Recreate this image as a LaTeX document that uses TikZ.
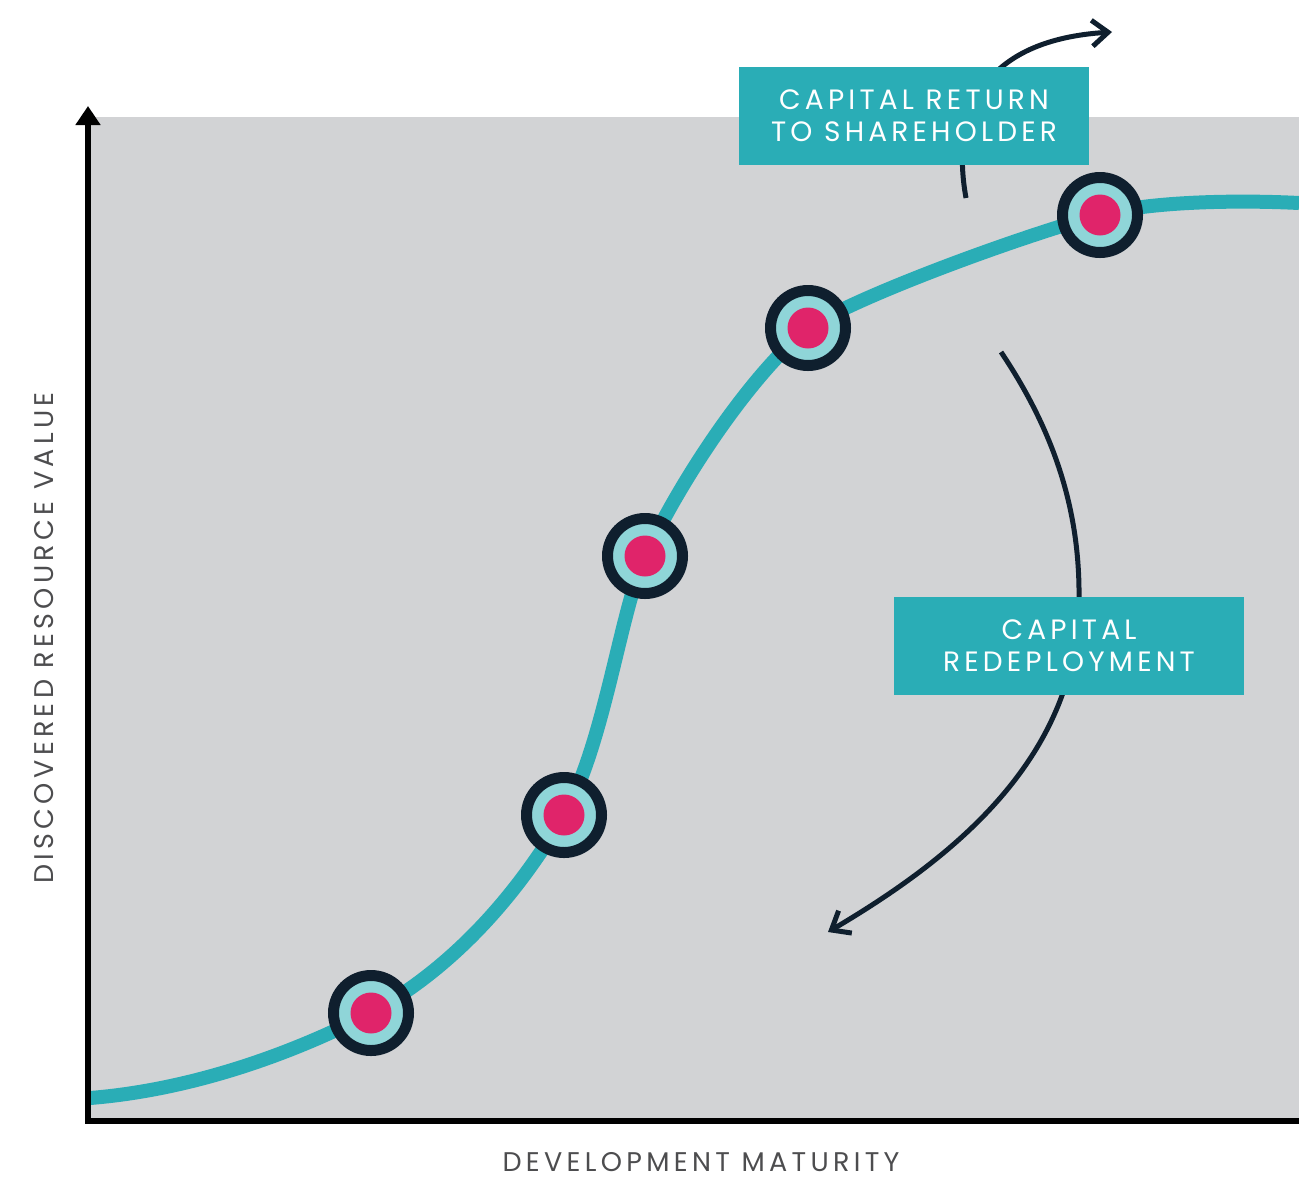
\documentclass[tikz,border=0pt]{standalone}
\usepackage{fontspec}
\usetikzlibrary{arrows.meta}
\newfontfamily\labelfont[LetterSpace=15]{Poppins}
\newfontfamily\axisfont[LetterSpace=16]{Poppins}
\definecolor{panelgray}{HTML}{D2D3D5}
\definecolor{curveteal}{HTML}{2AADB6}
\definecolor{dotnavy}{HTML}{0F1F2E}
\definecolor{dotlight}{HTML}{8FD5D8}
\definecolor{dotpink}{HTML}{E0246A}
\definecolor{labelgray}{HTML}{4D4D4F}
\tikzset{>={Straight Barb[length=8pt,width=13pt]}}

\begin{document}
\begin{tikzpicture}[x=0.5pt,y=-0.5pt,
    dot/.style={circle, draw=dotnavy, line width=5.5pt, fill=dotlight,
      minimum size=37.5pt, inner sep=0pt,
      path picture={\fill[dotpink] (path picture bounding box.center) circle (10.25pt);}},
    tag/.style={fill=curveteal, text=white, minimum width=175pt, minimum height=49pt,
      align=center, font=\labelfont\fontsize{14}{16}\selectfont},
    axislabel/.style={text=labelgray, inner sep=0pt, font=\axisfont\fontsize{13.5}{16}\selectfont},
    flow/.style={->, draw=dotnavy, line width=2.5pt}]
    \useasboundingbox (0,0) rectangle (1299,1179);
    \fill[panelgray] (90,117) rectangle (1299,1121);
    % points on the growth curve
    \coordinate (p0) at (90,1098);
    \coordinate (p1) at (371,1013);
    \coordinate (p2) at (564,815);
    \coordinate (p3) at (645,556);
    \coordinate (p4) at (808,328);
    \coordinate (p5) at (1100,215);
    \coordinate (p6) at (1299,203);
    \draw[curveteal, line width=7pt]
      (p0) .. controls (190,1090) and (290,1055) .. (p1)
           .. controls (456,966) and (519,892) .. (p2)
           .. controls (604,745) and (620,613) .. (p3)
           .. controls (685,472) and (753,373) .. (p4)
           .. controls (865,292) and (1040,230) .. (p5)
           .. controls (1150,201) and (1240,200) .. (p6);
    \foreach \p in {1,...,5}
      \node[dot] (d\p) at (p\p) {};
    % capital flows
    \coordinate (retstart) at (966,198);
    \coordinate (retend) at (1112,32);
    \coordinate (redstart) at (1001,352);
    \coordinate (redend) at (828,932);
    \draw[flow] (retstart) .. controls (950,110) and (985,40) .. (retend);
    \draw[flow] (redstart) .. controls (1060,440) and (1080,520) .. (1079,600)
      .. controls (1078,760) and (950,860) .. (redend);
    \node[tag] (ret) at (914,115.5) {CAPITAL RETURN\\TO SHAREHOLDER};
    \node[tag] (red) at (1069,645.5) {CAPITAL\\REDEPLOYMENT};
    % axes
    \coordinate (xend) at (1299,1121);
    \coordinate (ytop) at (88,106);
    \draw[line width=3pt, -{Triangle[width=12pt,length=9.5pt]}] (xend) -| (ytop);
    \node[axislabel] (xlabel) at (701,1162) {DEVELOPMENT MATURITY};
    \node[axislabel, rotate=90] (ylabel) at (44,638) {DISCOVERED RESOURCE VALUE};
\end{tikzpicture}
\end{document}
